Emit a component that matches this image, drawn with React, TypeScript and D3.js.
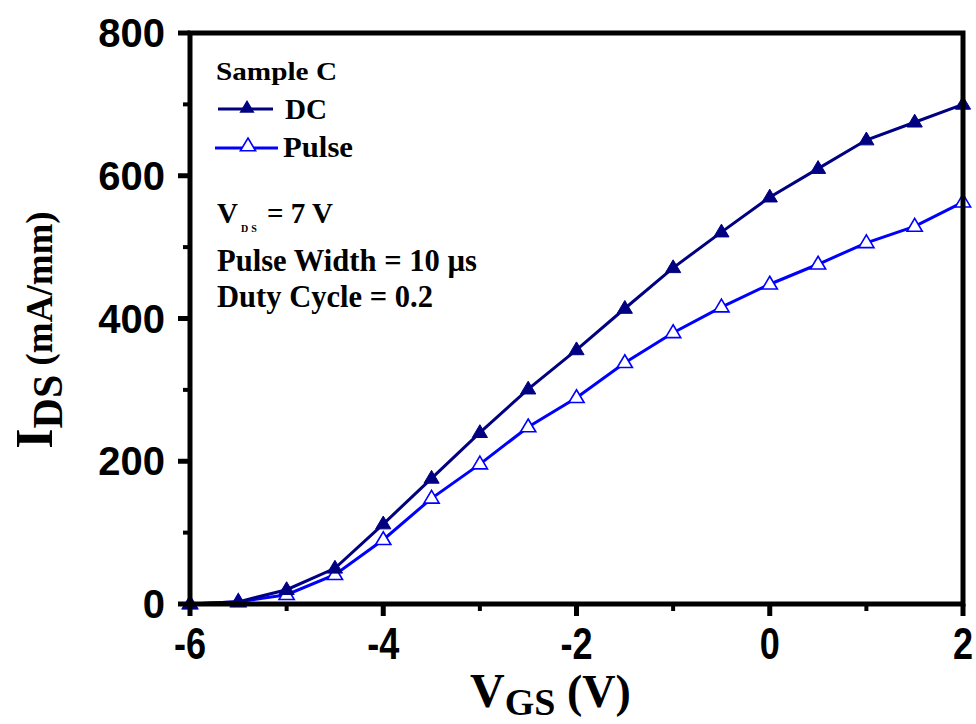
import React from "react";
import * as d3 from "d3";

const vgs = [-6, -5.5, -5, -4.5, -4, -3.5, -3, -2.5, -2, -1.5, -1, -0.5, 0, 0.5, 1, 1.5, 2];
const dcValues = [0, 3, 20, 50, 112, 176, 240, 301, 356, 414, 471, 521, 570, 610, 650, 675, 700];
const pulseValues = [0, 3, 13, 41, 90, 148, 196, 248, 289, 338, 380, 416, 448, 476, 506, 529, 563];
const xTicks = [-6, -4, -2, 0, 2];
const xMinor = [-5, -3, -1, 1];
const yTicks = [0, 200, 400, 600, 800];
const yMinor = [100, 300, 500, 700];

const W = 976, H = 724;
const L = 190, R = 963, T = 33, B = 604;

export default function App() {
  const x = d3.scaleLinear().domain([-6, 2]).range([L, R]);
  const y = d3.scaleLinear().domain([0, 800]).range([B, T]);
  const line = d3.line<number>().x((_, i) => x(vgs[i])).y((d) => y(d));
  const tri = (cx: number, cy: number, s = 8) =>
    `M${cx},${cy - s}L${cx + s * 0.95},${cy + s * 0.6}L${cx - s * 0.95},${cy + s * 0.6}Z`;
  const sans = "'Liberation Sans', Arial, sans-serif";
  const serif = "'Liberation Serif', 'Times New Roman', serif";
  return (
    <svg width={W} height={H} style={{ position: "absolute", left: 0, top: 0, background: "#fff" }}>
      <rect x={0} y={0} width={W} height={H} fill="#fff" />
      {/* data */}
      <path d={line(pulseValues) || ""} fill="none" stroke="#0000ff" strokeWidth={3} />
      <path d={line(dcValues) || ""} fill="none" stroke="#000080" strokeWidth={3} />
      {pulseValues.map((v, i) => (
        <path key={"p" + i} d={tri(x(vgs[i]), y(v))} fill="#fff" stroke="#0000ff" strokeWidth={1.6} />
      ))}
      {dcValues.map((v, i) => (
        <path key={"d" + i} d={tri(x(vgs[i]), y(v))} fill="#000080" stroke="#000080" strokeWidth={1} />
      ))}
      {/* frame */}
      <rect x={L} y={T} width={R - L} height={B - T} fill="none" stroke="#000" strokeWidth={5} />
      {yTicks.map((t) => (
        <g key={"yt" + t}>
          <line x1={L - 12} x2={L} y1={y(t)} y2={y(t)} stroke="#000" strokeWidth={5} />
          <text x={165} y={y(t) + 14} textAnchor="end" fontFamily={sans} fontWeight={700} fontSize={40}>{t}</text>
        </g>
      ))}
      {yMinor.map((t) => (
        <line key={"ym" + t} x1={L - 7} x2={L} y1={y(t)} y2={y(t)} stroke="#000" strokeWidth={4} />
      ))}
      {xTicks.map((t) => (
        <g key={"xt" + t} transform={`translate(${x(t)},659) scale(0.82,1)`}>
          <text x={0} y={0} textAnchor="middle" fontFamily={sans} fontWeight={700} fontSize={44}>{t}</text>
        </g>
      ))}
      {xTicks.map((t) => (
        <line key={"xtl" + t} x1={x(t)} x2={x(t)} y1={B} y2={B + 12} stroke="#000" strokeWidth={5} />
      ))}
      {xMinor.map((t) => (
        <line key={"xm" + t} x1={x(t)} x2={x(t)} y1={B} y2={B + 7} stroke="#000" strokeWidth={4} />
      ))}
      {/* axis titles */}
      <text x={470} y={707} fontFamily={serif} fontWeight={700} fontSize={48}>
        <tspan>V</tspan>
        <tspan dy={8} fontSize={38}>GS</tspan>
        <tspan dy={-8} fontSize={46}> (V)</tspan>
      </text>
      <text transform={`translate(52,330) rotate(-90)`} textAnchor="middle" fontFamily={serif} fontWeight={700} fontSize={52}>
        <tspan>I</tspan>
        <tspan dy={10} fontSize={42}>DS</tspan>
        <tspan dy={-10} fontSize={37}> (mA/mm)</tspan>
      </text>
      {/* legend */}
      <g fontFamily={serif} fontWeight={700} fill="#000">
        <text x={216} y={80} fontSize={25} textLength={121} lengthAdjust="spacingAndGlyphs">Sample C</text>
        <line x1={218} x2={273} y1={109} y2={109} stroke="#000080" strokeWidth={3} />
        <path d={tri(247, 108, 8)} fill="#000080" />
        <text x={285} y={119} fontSize={29} textLength={42} lengthAdjust="spacingAndGlyphs">DC</text>
        <line x1={215} x2={278} y1={148} y2={148} stroke="#0000ff" strokeWidth={3} />
        <path d={tri(248, 146, 8)} fill="#fff" stroke="#0000ff" strokeWidth={1.6} />
        <text x={283} y={157} fontSize={29} textLength={70} lengthAdjust="spacingAndGlyphs">Pulse</text>
        <text x={217} y={223} fontSize={29}>V<tspan dx={3} dy={9} fontSize={10} letterSpacing={3}>DS</tspan><tspan dy={-9}> = 7 V</tspan></text>
        <text x={217} y={271} fontSize={31} textLength={260} lengthAdjust="spacingAndGlyphs">Pulse Width = 10 µs</text>
        <text x={217} y={307} fontSize={31} textLength={216} lengthAdjust="spacingAndGlyphs">Duty Cycle = 0.2</text>
      </g>
    </svg>
  );
}
